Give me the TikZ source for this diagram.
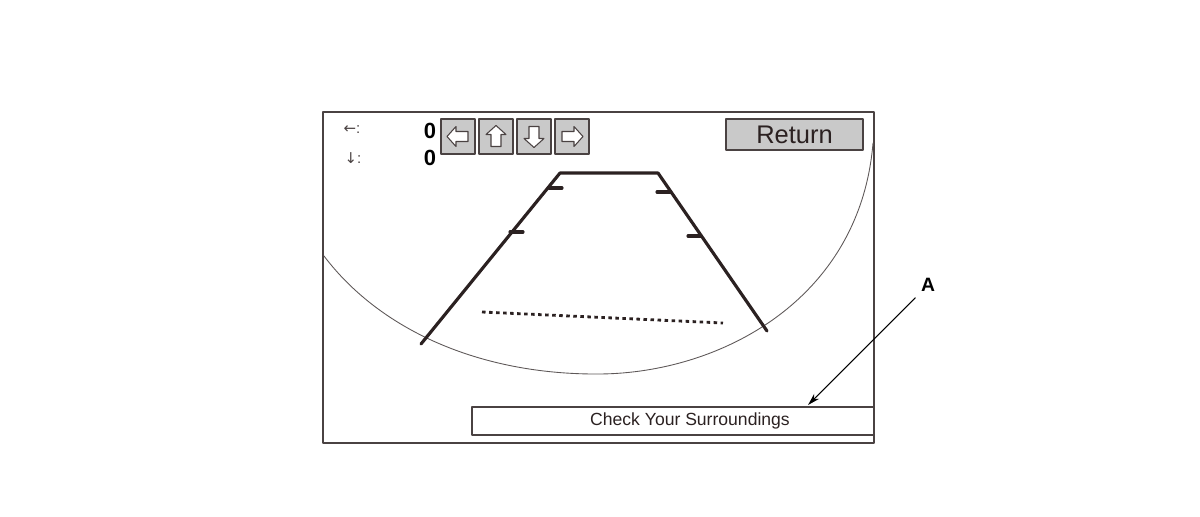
\documentclass[tikz,border=0pt]{standalone}
\usepackage{fontspec}
\setmainfont{Liberation Sans}
\newfontfamily\symfont{DejaVu Sans}
\usetikzlibrary{arrows,arrows.meta}
\definecolor{framecol}{HTML}{4A4242}
\definecolor{guidecol}{HTML}{2B2121}
\definecolor{btngray}{HTML}{C9C9C9}
\definecolor{curvecol}{HTML}{5E5858}

\begin{document}
\begin{tikzpicture}[line cap=round,line join=round,>={Stealth[length=7pt,width=4pt]},x=0.02cm,y=-0.02cm]
		\useasboundingbox (0,0) rectangle (1200,517);
		\tikzset{btn/.style={draw=framecol,fill=btngray,line width=0.7pt,minimum width=0.68cm,minimum height=0.7cm,inner sep=0pt},
			guide/.style={draw=guidecol,line width=1.8pt},
			arrowicon/.style={draw=framecol,fill=white,line width=0.6pt}}
		% screen frame
		\draw [line width=1.1pt,framecol] (323,112) rectangle (874,443);
		% rear view curve
		\draw [line width=0.5pt,curvecol] (324,256) .. controls (380,330) and (480,375) .. (600,374) .. controls (720,373) and (860,300) .. (873,143);
		% offsets
		\node [font=\fontsize{8.5}{8.5}\selectfont,text=framecol] (offx) at (352,130) {{\symfont ←}:};
		\node [font=\fontsize{8.5}{8.5}\selectfont,text=framecol] (offy) at (353,158) {{\symfont ↓}:};
		\node [font=\bfseries\fontsize{12.5}{12.5}\selectfont] (valx) at (430,131) {0};
		\node [font=\bfseries\fontsize{12.5}{12.5}\selectfont] (valy) at (430,158) {0};
		% buttons
		\node [btn] (bleft) at (458,136.5) {};
		\node [btn] (bup) at (496,136.5) {};
		\node [btn] (bdown) at (534,136.5) {};
		\node [btn] (bright) at (572,136.5) {};
		\foreach \b/\r in {bleft/0,bup/-90,bdown/90,bright/180}
			\draw [arrowicon,shift={(\b)},rotate=\r] (-11,0) -- (-2,-10) -- (-2,-5) -- (10,-5) -- (10,5) -- (-2,5) -- (-2,10) -- cycle;
		\node [btn,minimum width=2.74cm,minimum height=0.62cm,font=\fontsize{14.5}{14.5}\selectfont,text=guidecol] (ret) at (794.5,134.5) {Return};
		% guide lines
		\draw [guide] (421,344) -- (560,173) -- (658,173) -- (767,331);
		\draw [guide] (549,188) -- (562,188);
		\draw [guide] (510,232) -- (523,232);
		\draw [guide] (657,192) -- (670,192);
		\draw [guide] (688,236) -- (701,236);
		\draw [guidecol,line width=1.6pt,line cap=butt,dash pattern=on 2pt off 2pt] (482,312) -- (723,323);
		% message bar
		\node [draw=framecol,line width=0.8pt,minimum width=8.04cm,minimum height=0.56cm,inner sep=0pt] (msg) at (673,421) {};
		\node [font=\fontsize{10}{10}\selectfont,text=guidecol] (msgtext) at (690,421) {Check Your Surroundings};
		% callout
		\node [font=\bfseries\fontsize{11}{11}\selectfont] (lblA) at (928,285) {A};
		\coordinate (tipA) at (808,405);
		\draw [->,line width=0.6pt] (lblA) -- (tipA);
\end{tikzpicture}
\end{document}
